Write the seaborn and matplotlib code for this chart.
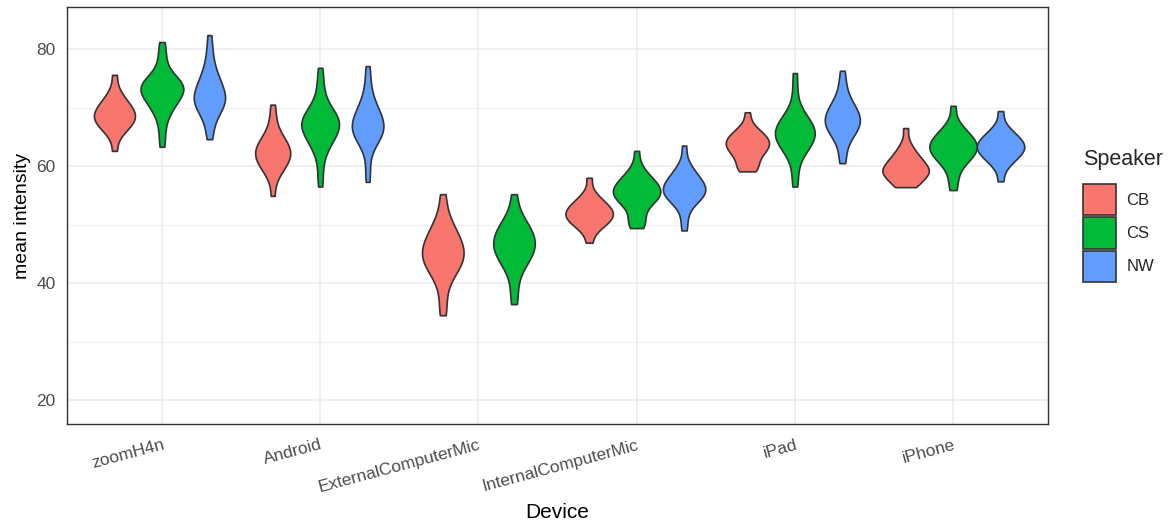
import numpy as np
import pandas as pd
import matplotlib
matplotlib.use("Agg")
import matplotlib.pyplot as plt
import seaborn as sns
from seaborn.external.kde import gaussian_kde

# estimated mean-intensity samples per device / speaker
DEVICES = ["zoomH4n", "Android", "ExternalComputerMic", "InternalComputerMic", "iPad", "iPhone"]
SPEAKERS = ["CB", "CS", "NW"]
COLORS = ["#F8766D", "#00BA38", "#619CFF"]

zoomH4n = {
    "CB": [62.6, 65.0, 65.9, 66.4, 66.8, 67.2, 67.5, 67.8, 68.1, 68.3, 68.6, 68.8, 69.2, 69.5,
           69.8, 70.1, 70.5, 70.9, 71.4, 72.1, 73.1, 75.6],
    "CS": [63.3, 65.6, 67.8, 69.1, 69.8, 70.4, 70.9, 71.3, 71.7, 72.1, 72.5, 72.8, 73.1, 73.3,
           73.5, 73.7, 73.9, 74.1, 74.4, 74.7, 75.1, 75.8, 77.6, 79.3, 81.2],
    "NW": [64.6, 66.2, 67.9, 68.9, 69.5, 70.0, 70.3, 70.7, 71.0, 71.3, 71.6, 71.9, 72.2, 72.6,
           73.0, 73.5, 74.0, 74.5, 75.1, 75.7, 76.6, 78.1, 79.8, 82.4],
}
Android = {
    "CB": [54.9, 57.8, 58.8, 59.5, 60.0, 60.4, 60.8, 61.1, 61.4, 61.7, 62.1, 62.3, 62.7, 63.0,
           63.3, 63.6, 64.0, 64.4, 64.9, 65.6, 66.6, 68.3, 70.5],
    "CS": [56.5, 59.2, 61.8, 63.1, 63.8, 64.4, 64.9, 65.3, 65.7, 66.1, 66.5, 66.8, 67.1, 67.4,
           67.6, 67.9, 68.2, 68.5, 68.9, 69.3, 69.8, 70.7, 72.4, 74.3, 76.8],
    "NW": [57.3, 59.8, 62.9, 63.9, 64.5, 65.0, 65.3, 65.7, 66.0, 66.3, 66.6, 66.9, 67.2, 67.6,
           68.0, 68.4, 68.8, 69.3, 69.8, 70.4, 71.2, 72.6, 74.6, 77.1],
}
ExternalComputerMic = {
    "CB": [34.5, 37.0, 39.9, 41.2, 42.0, 42.6, 43.1, 43.6, 44.1, 44.4, 44.8, 45.2, 45.6, 46.1,
           46.6, 47.0, 47.6, 48.1, 48.8, 49.5, 50.4, 52.1, 55.2],
    "CS": [36.4, 38.8, 41.3, 42.6, 43.4, 44.0, 44.5, 45.0, 45.5, 45.8, 46.2, 46.6, 47.0, 47.4,
           47.8, 48.2, 48.7, 49.2, 49.6, 50.2, 51.0, 52.4, 55.2],
}
InternalComputerMic = {
    "CB": [46.9, 48.6, 49.4, 49.9, 50.2, 50.5, 50.8, 51.1, 51.3, 51.6, 51.8, 52.0, 52.3, 52.5,
           52.8, 53.1, 53.4, 53.8, 54.1, 54.7, 55.6, 58.0],
    "CS": [49.4, 49.9, 50.5, 51.2, 52.5, 53.3, 53.8, 54.1, 54.4, 54.7, 55.0, 55.2, 55.5, 55.7,
           55.9, 56.2, 56.5, 56.8, 57.1, 57.5, 57.8, 58.3, 58.9, 59.9, 62.6],
    "NW": [49.0, 51.0, 52.9, 53.7, 54.2, 54.5, 54.8, 55.1, 55.4, 55.6, 55.9, 56.1, 56.3, 56.7,
           57.0, 57.3, 57.6, 58.0, 58.4, 58.9, 59.6, 60.6, 63.5],
}
iPad = {
    "CB": [59.1, 59.4, 59.8, 60.1, 61.0, 61.5, 61.9, 62.3, 62.6, 62.9, 63.2, 63.4, 63.7, 63.9,
           64.1, 64.4, 64.6, 64.9, 65.2, 65.5, 65.8, 66.3, 67.1, 69.2],
    "CS": [56.5, 58.8, 61.2, 62.2, 62.9, 63.4, 63.8, 64.2, 64.5, 64.8, 65.1, 65.5, 65.7, 66.1,
           66.4, 66.7, 67.0, 67.4, 67.8, 68.3, 69.0, 70.0, 72.8, 75.9],
    "NW": [60.5, 62.0, 63.8, 64.8, 65.4, 65.9, 66.2, 66.6, 66.9, 67.2, 67.5, 67.8, 68.1, 68.4,
           68.8, 69.1, 69.5, 69.9, 70.3, 70.8, 71.5, 72.7, 74.2, 76.3],
}
iPhone = {
    "CB": [56.4, 56.6, 56.8, 57.5, 57.9, 58.2, 58.5, 58.7, 58.9, 59.1, 59.3, 59.5, 59.7, 60.1,
           60.4, 60.7, 61.0, 61.4, 61.8, 62.3, 63.0, 64.0, 66.5],
    "CS": [55.9, 57.5, 59.2, 60.2, 60.8, 61.3, 61.6, 62.0, 62.3, 62.6, 62.9, 63.2, 63.4, 63.7,
           64.0, 64.3, 64.6, 65.0, 65.4, 65.8, 66.4, 67.4, 70.3],
    "NW": [57.4, 59.6, 60.5, 61.0, 61.4, 61.8, 62.1, 62.4, 62.7, 62.9, 63.2, 63.4, 63.7, 63.9,
           64.2, 64.5, 64.8, 65.2, 65.6, 66.1, 67.0, 69.4],
}

groups = {"zoomH4n": zoomH4n, "Android": Android, "ExternalComputerMic": ExternalComputerMic,
          "InternalComputerMic": InternalComputerMic, "iPad": iPad, "iPhone": iPhone}

rows = []
for dev, d in groups.items():
    for spk, vals in d.items():
        for v in vals:
            rows.append((dev, spk, v))
df = pd.DataFrame(rows, columns=["Device", "Speaker", "mean"])

BW = 0.8


def peak_density(vals):
    k = gaussian_kde(np.asarray(vals), bw_method="silverman")
    k.set_bandwidth(k.factor * BW)
    grid = np.linspace(min(vals), max(vals), 200)
    return k(grid).max()


# ggplot dodges only the speakers present, so External gets 2 wider slots;
# "area" scaling must still be shared with the other violins
peaks = {(dev, spk): peak_density(v) for dev, d in groups.items() for spk, v in d.items()}
dmax_all = max(peaks.values())
dmax_ext = max(v for k, v in peaks.items() if k[0] == "ExternalComputerMic")
dmax_main = max(v for k, v in peaks.items() if k[0] != "ExternalComputerMic")

sns.set_style("white")
plt.rcParams["font.family"] = ["Liberation Sans", "DejaVu Sans"]

fig = plt.figure(figsize=(11.71, 5.23), dpi=100)
ax = fig.add_axes([67 / 1171, 99 / 523, 981 / 1171, 417 / 523])

common = dict(x="Device", y="mean", hue="Speaker", order=DEVICES, gap=0, cut=0,
              inner=None, density_norm="area", bw_method="silverman", bw_adjust=BW,
              linewidth=1.2, linecolor="#333333", saturation=1, width=0.9, ax=ax)


def shrink_new(before, factor):
    # narrow the violins drawn since `before` about their own centre line
    for coll in ax.collections[before:]:
        for p in coll.get_paths():
            v = p.vertices
            xc = (v[:, 0].min() + v[:, 0].max()) / 2
            v[:, 0] = xc + (v[:, 0] - xc) * factor


n0 = len(ax.collections)
sns.violinplot(data=df[df.Device != "ExternalComputerMic"], hue_order=SPEAKERS,
               palette=COLORS, **common)
shrink_new(n0, dmax_main / dmax_all)
n1 = len(ax.collections)
sns.violinplot(data=df[df.Device == "ExternalComputerMic"], hue_order=SPEAKERS[:2],
               palette=COLORS[:2], legend=False, **common)
shrink_new(n1, dmax_ext / dmax_all)

ax.set_xlim(-0.6, 5.6)
ax.set_ylim(15.9, 87.2)
ax.set_yticks([20, 40, 60, 80])
ax.set_yticks([30, 50, 70], minor=True)
ax.grid(which="major", color="#EBEBEB", lw=1.1)
ax.grid(which="minor", axis="y", color="#EBEBEB", lw=0.55)
ax.set_axisbelow(True)
for s in ax.spines.values():
    s.set_color("#333333")
    s.set_linewidth(1.0)
ax.tick_params(which="major", length=3.6, width=1, color="#333333", labelcolor="#4D4D4D",
               labelsize=12.5, pad=4.5)
ax.tick_params(axis="x", pad=6)
ax.tick_params(which="minor", length=0)

for lbl in ax.get_xticklabels():
    lbl.set_rotation(15)
    lbl.set_ha("right")
    lbl.set_va("top")
    lbl.set_rotation_mode("anchor")

ax.set_xlabel("Device", fontsize=15, color="black", labelpad=6)
ax.set_ylabel("mean intensity", fontsize=14, color="black", labelpad=4)

handles, labels = ax.get_legend_handles_labels()
leg = ax.legend(handles, labels, title="Speaker", loc="center left", bbox_to_anchor=(1.036, 0.5),
                frameon=False, fontsize=12, title_fontsize=15.5, handlelength=1.98, handleheight=2.56,
                labelspacing=0.1, handletextpad=0.6, borderaxespad=0, borderpad=0)
leg._legend_box.align = "left"
leg._legend_box.sep = 10
for h in leg.legend_handles:
    h.set_edgecolor("#333333")
    h.set_linewidth(1.2)

fig.savefig("out.png", dpi=100)
